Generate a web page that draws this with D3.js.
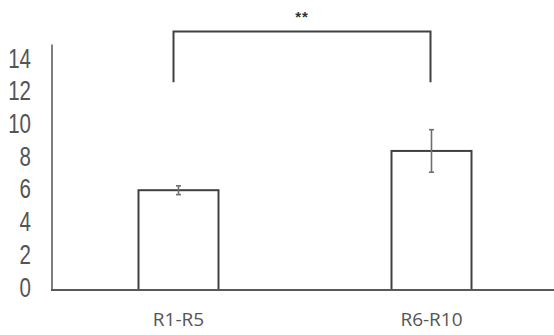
<!DOCTYPE html>
<html>
<head>
<meta charset="utf-8">
<script src="https://cdn.jsdelivr.net/npm/d3@7"></script>
<style>
  html, body { margin: 0; padding: 0; background: #fff; }
  svg { display: block; }
</style>
</head>
<body>
<svg id="chart" width="554" height="335"></svg>
<script>
// Group labels, means and error half-widths
const categories = ["R1-R5", "R6-R10"];
const means = [6.1, 8.5];
const errors = [0.27, 1.3];
const yTicks = [0, 2, 4, 6, 8, 10, 12, 14];
const significance = "**";

const svg = d3.select("#chart");
const W = 554, H = 335;
const axisX = 52, baseY = 290;

const y = d3.scaleLinear().domain([0, 15]).range([baseY, 44.6]);
const x = d3.scalePoint().domain(categories).range([axisX, 558]).padding(0.5);
const barW = 80;

const lineCol = "#404040";
const textCol = "#555";

// y tick labels (no tick marks), condensed horizontally
svg.append("g")
  .selectAll("text")
  .data(yTicks)
  .join("text")
  .attr("transform", d => `translate(31,${y(d) - 3}) scale(0.76,1)`)
  .attr("text-anchor", "end")
  .attr("dominant-baseline", "central")
  .attr("font-family", "'Liberation Sans', sans-serif")
  .attr("font-size", 27)
  .attr("fill", textCol)
  .text(d => d);

// vertical axis line
svg.append("line")
  .attr("x1", axisX).attr("x2", axisX)
  .attr("y1", y(15)).attr("y2", baseY)
  .attr("stroke", "#7f7f7f").attr("stroke-width", 2);

// bars
svg.append("g")
  .selectAll("rect")
  .data(categories)
  .join("rect")
  .attr("x", d => x(d) - barW / 2)
  .attr("y", (d, i) => y(means[i]))
  .attr("width", barW)
  .attr("height", (d, i) => baseY - y(means[i]))
  .attr("fill", "#fff")
  .attr("stroke", lineCol)
  .attr("stroke-width", 2);

// baseline
svg.append("line")
  .attr("x1", axisX - 1).attr("x2", W)
  .attr("y1", baseY).attr("y2", baseY)
  .attr("stroke", "#595959").attr("stroke-width", 2);

// error bars
const eb = svg.append("g").attr("stroke", "#6e6e6e").attr("stroke-width", 1.6);
categories.forEach((c, i) => {
  const cx = x(c);
  const top = y(means[i] + errors[i]);
  const bot = y(means[i] - errors[i]);
  eb.append("line").attr("x1", cx).attr("x2", cx).attr("y1", top).attr("y2", bot);
  eb.append("line").attr("x1", cx - 2.5).attr("x2", cx + 2.5).attr("y1", top).attr("y2", top);
  eb.append("line").attr("x1", cx - 2.5).attr("x2", cx + 2.5).attr("y1", bot).attr("y2", bot);
});

// x category labels
svg.append("g")
  .selectAll("text")
  .data(categories)
  .join("text")
  .attr("x", d => x(d))
  .attr("y", 326)
  .attr("text-anchor", "middle")
  .attr("font-family", "'Open Sans', 'Liberation Sans', sans-serif")
  .attr("font-size", 19)
  .attr("fill", textCol)
  .text(d => d);

// significance bracket
const bx1 = x(categories[0]) - 5, bx2 = x(categories[1]) - 1;
const bTop = y(15.8), bLeg = y(12.7);
svg.append("path")
  .attr("d", `M${bx1},${bLeg}V${bTop}H${bx2}V${bLeg}`)
  .attr("fill", "none")
  .attr("stroke", lineCol)
  .attr("stroke-width", 2);

svg.append("text")
  .attr("x", (bx1 + bx2) / 2)
  .attr("y", 22)
  .attr("text-anchor", "middle")
  .attr("font-family", "'Liberation Sans', sans-serif")
  .attr("font-size", 15)
  .attr("font-weight", "bold")
  .attr("letter-spacing", 1)
  .attr("fill", "#333")
  .text(significance);
</script>
</body>
</html>
